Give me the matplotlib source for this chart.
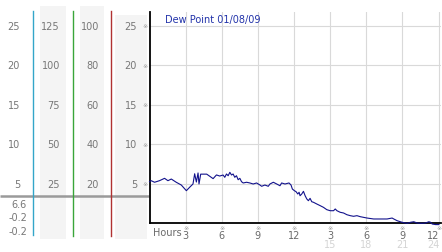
import matplotlib
matplotlib.use("Agg")
import matplotlib.pyplot as plt
from matplotlib.patches import Rectangle, Circle

# dew point readings (hours since start, value)
hours = [0.00, 0.14, 0.42, 0.83, 1.25, 1.53, 1.81, 2.22, 2.64, 3.06, 3.33, 3.61,
         3.75, 3.89, 4.03, 4.11, 4.25, 4.75, 5.28, 5.56, 5.83, 6.11, 6.25, 6.39,
         6.53, 6.67, 6.81, 6.94, 7.08, 7.22, 7.36, 7.50, 7.64, 7.78, 8.06, 8.33,
         8.61, 8.89, 9.17, 9.31, 9.58, 9.86, 10.00, 10.28, 10.56, 10.83, 10.97,
         11.25, 11.58, 11.75, 11.86, 12.03, 12.17, 12.31, 12.42, 12.50, 12.64,
         12.78, 12.92, 13.06, 13.19, 13.33, 13.47, 13.61, 13.89, 14.17, 14.44,
         14.72, 15.00, 15.28, 15.42, 15.56, 15.83, 16.11, 16.39, 16.67, 16.94,
         17.22, 17.50, 18.06, 18.61, 19.17, 19.72, 20.14, 20.28, 20.56, 20.97,
         21.39, 21.67, 21.94, 22.22, 22.64, 22.92, 23.19, 23.33, 23.47, 23.75, 24.03]
dew = [5.24, 5.37, 5.17, 5.37, 5.67, 5.37, 5.58, 5.17, 4.82, 4.10, 4.53, 4.95,
       6.25, 5.20, 6.35, 4.95, 6.20, 6.20, 5.63, 6.10, 5.96, 6.09, 5.80, 6.22,
       6.00, 6.43, 6.09, 6.22, 5.80, 6.00, 5.49, 5.67, 5.24, 5.08, 5.17, 5.08,
       4.95, 5.08, 4.82, 4.66, 4.82, 4.66, 4.95, 5.17, 4.95, 4.73, 5.08,
       4.95, 5.08, 4.82, 4.31, 4.10, 3.97, 3.68, 3.90, 3.46, 3.68,
       4.02, 3.46, 3.05, 2.83, 3.13, 2.70, 2.63, 2.41, 2.20, 1.99,
       1.69, 1.56, 1.56, 1.78, 1.56, 1.36, 1.27, 1.05, 0.93, 0.85,
       0.93, 0.80, 0.63, 0.51, 0.51, 0.51, 0.63, 0.51, 0.29, 0.09,
       -0.04, 0.09, 0.16, 0.00, -0.04, 0.00, 0.16, 0.09, -0.13, -0.20, -0.20]

grid_values = [5, 10, 15, 20, 25]
col1_labels = ["5", "10", "15", "20", "25"]
col2_labels = ["25", "50", "75", "100", "125"]
col3_labels = ["20", "40", "60", "80", "100"]
col4_labels = ["5", "10", "15", "20", "25"]
hour_ticks = [3, 6, 9, 12, 15, 18, 21, 24]
hour_labels = ["3", "6", "9", "12", "3", "6", "9", "12"]
next_day_labels = ["15", "18", "21", "24"]
stats = ["6.6", "-0.2", "-0.2"]
legend_text = "Dew Point 01/08/09"

W, H = 442, 253
fig = plt.figure(figsize=(W / 100, H / 100), dpi=100)
fig.patch.set_facecolor("white")

# background layer in pixel coordinates
bg = fig.add_axes([0, 0, 1, 1], zorder=0)
bg.set_xlim(0, W)
bg.set_ylim(H, 0)
bg.axis("off")

# shaded columns
bg.add_patch(Rectangle((40, 7), 26, 233, color="#f4f4f4", lw=0))
bg.add_patch(Rectangle((80, 7), 24, 233, color="#f4f4f4", lw=0))
bg.add_patch(Rectangle((115, 16), 32, 224, color="#f4f4f4", lw=0))
# gray horizontal line
bg.plot([0, 149], [197, 197], color="#9a9a9a", lw=1.8, solid_capstyle="butt")
# coloured separators
bg.plot([33, 33], [12, 236], color="#33a6c9", lw=1.0)
bg.plot([72.5, 72.5], [12, 237], color="#3aa63a", lw=1.0)
bg.plot([111, 111], [12, 237], color="#b03232", lw=1.0)
# stats
for s, yy in zip(stats, [205, 218, 232]):
    bg.text(27, yy, s, ha="right", va="center", fontsize=7, color="#777777")

# main plot
bottom = 1 - 224 / H
height = (224 - 13) / H
ax = fig.add_axes([149.5 / W, bottom, (441 - 149.5) / W, height], zorder=2)
ax.set_facecolor("white")
ax.set_ylim(0, (224 - 13) / 7.88)
ax.set_xlim(0, 24.2)
ax.set_yticks(grid_values)
ax.set_xticks(hour_ticks)
ax.grid(True, color="#d9d9d9", lw=0.8)
ax.tick_params(length=0, labelleft=False, labelbottom=False)
for sp in ["top", "right"]:
    ax.spines[sp].set_visible(False)
for sp in ["left", "bottom"]:
    ax.spines[sp].set_color("black")
    ax.spines[sp].set_linewidth(1.3)
ax.plot(hours, dew, color="#12128c", lw=0.8, clip_on=False, zorder=3)


def shift(h):
    # the last labels are pulled left to stay inside the picture
    return -5 if h == hour_ticks[-1] else 0


# x labels
for h, lab in zip(hour_ticks, hour_labels):
    ax.annotate("※", xy=(h, 0), xycoords=("data", "axes fraction"), xytext=(0, -5),
                textcoords="offset pixels", ha="center", va="center", fontsize=4.5,
                color="#999999", annotation_clip=False)
    ax.annotate(lab, xy=(h, 0), xycoords=("data", "axes fraction"), xytext=(shift(h), -12),
                textcoords="offset pixels", ha="center", va="center", fontsize=7,
                color="#6a6a6a", annotation_clip=False)
for h, lab in zip(hour_ticks[4:], next_day_labels):
    ax.annotate(lab, xy=(h, 0), xycoords=("data", "axes fraction"), xytext=(shift(h), -21.5),
                textcoords="offset pixels", ha="center", va="center", fontsize=7,
                color="#d4d4d4", annotation_clip=False)
ax.annotate("Hours", xy=(0, 0), xycoords="axes fraction", xytext=(3, -9),
            textcoords="offset pixels", ha="left", va="center", fontsize=7,
            color="#6a6a6a", annotation_clip=False)

# legend
bg.add_patch(Circle((160, 20), 2.8, facecolor="#b0b0b0", edgecolor="#808080", lw=0.6, zorder=5))
fig.text(165 / W, 1 - 20 / H, legend_text, ha="left", va="center", fontsize=7,
         color="#2233aa", zorder=6)

# left scale columns share the y scale of the main plot
left = fig.add_axes([0, bottom, 149.5 / W, height], zorder=1, sharey=ax)
left.set_xlim(0, 149.5)
left.axis("off")
for labels, xr in [(col1_labels, 20), (col2_labels, 60), (col3_labels, 99), (col4_labels, 137)]:
    for v, lab in zip(grid_values, labels):
        left.text(xr, v, lab, ha="right", va="center", fontsize=7, color="#777777")
for v in grid_values:
    left.text(145.5, v, "※", ha="center", va="center", fontsize=4.5, color="#999999")

fig.savefig("out.png", dpi=100)
